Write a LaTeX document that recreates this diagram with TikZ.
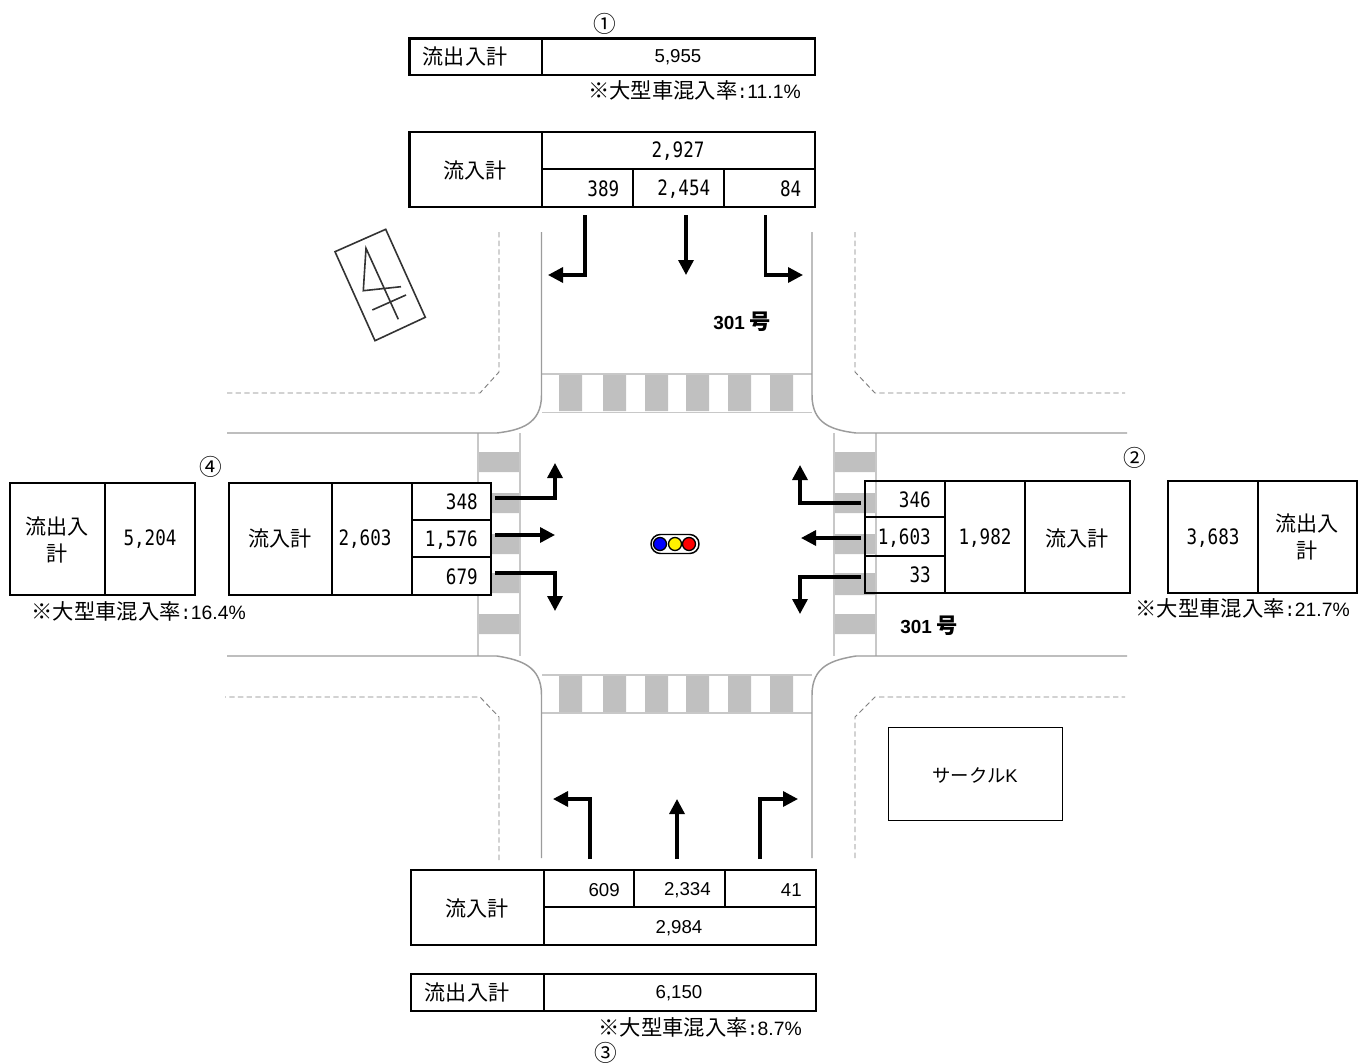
\documentclass[tikz,border=0pt]{standalone}
\usepackage{fontspec}
\setmainfont{Noto Sans CJK JP}
\newfontfamily\arialnum{Liberation Sans}
\newfontfamily\gothicnum[FakeStretch=0.83]{DejaVu Sans Mono}
\usetikzlibrary{arrows.meta}
\definecolor{ink}{HTML}{000000}
\definecolor{curb}{HTML}{9C9C9C}
\definecolor{walkline}{HTML}{C8C8C8}
\definecolor{zebra}{HTML}{C0C0C0}
\definecolor{setback}{HTML}{808080}
\newcommand{\jpsize}{\fontsize{15.8}{20}\selectfont}
\newcommand{\mixrate}[1]{{\fontsize{16}{19}\selectfont ※大型車混入率}{\gothicnum\fontsize{15}{19}\selectfont :}{\arialnum\fontsize{14.5}{19}\selectfont #1\%}}
\tikzset{
  tablerule/.style={draw=ink,line width=1.6pt},
  jptext/.style={font=\jpsize,inner sep=0pt,align=center},
  gothic/.style={font=\gothicnum\fontsize{15.9}{18}\selectfont,inner sep=0pt,yshift=-0.5pt},
  arial/.style={font=\arialnum\fontsize{14}{16}\selectfont,inner sep=0pt,yshift=-0.5pt},
  ratetext/.style={inner sep=0pt},
  circled/.style={font=\fontsize{17}{18}\selectfont,inner sep=0pt},
  roadname/.style={font=\bfseries\fontsize{16}{16}\selectfont,inner sep=0pt},
  curbline/.style={draw=curb,line width=1.1pt},
  walkedge/.style={draw=walkline,line width=1.1pt},
  setbackline/.style={draw=setback,line width=0.7pt,dash pattern=on 4pt off 2.5pt},
  flowarrow/.style={draw=ink,line width=2.5pt,-{Triangle[length=11.25pt,width=11.25pt]}}
}

\begin{document}
\begin{tikzpicture}[x=0.75pt,y=-0.75pt,text=ink]
  \useasboundingbox (0,0) rectangle (1370,1063);
  \path[fill=white] (0,0) rectangle (1370,1063);

  \fill[zebra] (559,374) rectangle (582,411) (603,374) rectangle (626,411)
    (645,374) rectangle (668,411) (686,374) rectangle (709,411)
    (728,374) rectangle (751,411) (770,374) rectangle (793,411);
  \fill[zebra] (559,675) rectangle (582,712) (603,675) rectangle (626,712)
    (645,675) rectangle (668,712) (686,675) rectangle (709,712)
    (728,675) rectangle (751,712) (770,675) rectangle (793,712);
  \fill[zebra] (479,452) rectangle (519,472) (479,493) rectangle (519,513)
    (479,534) rectangle (519,554) (479,573) rectangle (519,593)
    (479,614) rectangle (519,634);
  \fill[zebra] (835,452) rectangle (875,472) (835,493) rectangle (875,513)
    (835,534) rectangle (875,554) (835,573) rectangle (875,595)
    (835,614) rectangle (875,634);
  \draw[walkedge] (542,374) -- (812,374);
  \draw[walkedge] (542,412.5) -- (812,412.5);
  \draw[walkedge] (542,675) -- (812,675);
  \draw[walkedge] (542,713) -- (812,713);
  \draw[walkedge] (478,433) -- (478,656);
  \draw[walkedge] (520,433) -- (520,656);
  \draw[walkedge] (834,433) -- (834,656);
  \draw[walkedge] (876,433) -- (876,656);

  \draw[curbline] (541.5,232) -- (541.5,395) .. controls (541.5,424) and (521,430) .. (497,433) -- (227,433);
  \draw[curbline] (812,232) -- (812,395) .. controls (812,424) and (832,430) .. (856,433) -- (1127,433);
  \draw[curbline] (541.5,858) -- (541.5,695) .. controls (541.5,666) and (521,660) .. (497,656) -- (227,656);
  \draw[curbline] (812,858) -- (812,695) .. controls (812,666) and (832,660) .. (856,656) -- (1127,656);
  \draw[setbackline] (499,232) -- (499,372) -- (480,393) -- (227,393);
  \draw[setbackline] (855,232) -- (855,372) -- (875,393) -- (1125,393);
  \draw[setbackline] (499,860) -- (499,717) -- (480,697) -- (225,697);
  \draw[setbackline] (855,858) -- (855,717) -- (875,697) -- (1125,697);

  \draw[draw=ink!80,line width=1.2pt] (385.7,229.3) -- (335,251.7) -- (375,340.7) -- (425.3,317.3) -- cycle;
  \draw[draw=ink!80,line width=1.2pt] (401,286.7) -- (363.3,290.7) -- (366,248.3) -- (398.3,319.3);
  \draw[draw=ink!80,line width=1.2pt] (372.3,310) -- (406,295);

  \node[circled] (mark1) at (605,24) {①};
  \draw[tablerule] (409.5,38.5) rectangle (815,75);
  \draw[tablerule] (542,38.5) -- (542,75);
  \node[jptext] (out1) at (465,56) {流出入計};
  \node[arial] (out1val) at (678,57) {5,955};
  \node[ratetext,anchor=east] (rate1) at (801,90) {\mixrate{11.1}};

  \draw[tablerule] (409.5,132) rectangle (815,207);
  \draw[tablerule] (542,132) -- (542,207);
  \draw[tablerule] (542,169) -- (815,169);
  \draw[tablerule] (633,169) -- (633,207);
  \draw[tablerule] (724,169) -- (724,207);
  \node[jptext] (in1) at (475,170) {流入計};
  \node[gothic] (in1val) at (678,150) {2,927};
  \node[gothic,anchor=east] (in1l) at (619.5,188) {389};
  \node[gothic,anchor=east] (in1s) at (710.5,188) {2,454};
  \node[gothic,anchor=east] (in1r) at (801.5,188) {84};

  \coordinate (a1la) at (585,215); \coordinate (a1lb) at (548,275);
  \coordinate (a1sa) at (686,215); \coordinate (a1sb) at (686,275);
  \coordinate (a1ra) at (765.5,215); \coordinate (a1rb) at (803,275);
  \draw[flowarrow] (a1la) |- (a1lb);
  \draw[flowarrow] (a1sa) -- (a1sb);
  \draw[flowarrow] (a1ra) |- (a1rb);

  \node[roadname,anchor=west] (road1) at (713,322) {{\arialnum\bfseries\fontsize{14.2}{16}\selectfont 301} 号};

  \node[circled] (mark4) at (211,467) {④};
  \draw[tablerule] (10,483) rectangle (195,595);
  \draw[tablerule] (105,483) -- (105,595);
  \node[jptext] (out4) at (57,540) {流出入\\計};
  \node[gothic] (out4val) at (150,538) {5,204};
  \node[ratetext,anchor=east] (rate4) at (246,611) {\mixrate{16.4}};

  \draw[tablerule,fill=white] (229,483) rectangle (491,595);
  \draw[tablerule] (332,483) -- (332,595);
  \draw[tablerule] (412,483) -- (412,595);
  \draw[tablerule] (412,520) -- (491,520);
  \draw[tablerule] (412,557) -- (491,557);
  \node[jptext] (in4) at (280,538) {流入計};
  \node[gothic] (in4val) at (365,538) {2,603};
  \node[gothic,anchor=east] (in4r) at (478,501) {348};
  \node[gothic,anchor=east] (in4s) at (478,539) {1,576};
  \node[gothic,anchor=east] (in4l) at (478,576) {679};

  \coordinate (a4ra) at (495,498); \coordinate (a4rb) at (555,463);
  \coordinate (a4sa) at (495,535); \coordinate (a4sb) at (555,535);
  \coordinate (a4la) at (495,573); \coordinate (a4lb) at (555,611);
  \draw[flowarrow] (a4ra) -| (a4rb);
  \draw[flowarrow] (a4sa) -- (a4sb);
  \draw[flowarrow] (a4la) -| (a4lb);

  \node[circled] (mark2) at (1135,458) {②};
  \draw[tablerule] (865,481) rectangle (1130,593);
  \draw[tablerule] (945,481) -- (945,593);
  \draw[tablerule] (1025,481) -- (1025,593);
  \draw[tablerule] (865,517) -- (945,517);
  \draw[tablerule] (865,556) -- (945,556);
  \node[gothic,anchor=east] (in2l) at (931,499) {346};
  \node[gothic,anchor=east] (in2s) at (931,537) {1,603};
  \node[gothic,anchor=east] (in2r) at (931,574) {33};
  \node[gothic] (in2val) at (985,537) {1,982};
  \node[jptext] (in2) at (1077,538) {流入計};

  \coordinate (a2la) at (861,503); \coordinate (a2lb) at (800,465);
  \coordinate (a2sa) at (861,538); \coordinate (a2sb) at (801,538);
  \coordinate (a2ra) at (861,577); \coordinate (a2rb) at (800,614);
  \draw[flowarrow] (a2la) -| (a2lb);
  \draw[flowarrow] (a2sa) -- (a2sb);
  \draw[flowarrow] (a2ra) -| (a2rb);

  \draw[tablerule] (1168,481) rectangle (1357,593);
  \draw[tablerule] (1258,481) -- (1258,593);
  \node[gothic] (out2val) at (1213,537) {3,683};
  \node[jptext] (out2) at (1307,537) {流出入\\計};
  \node[ratetext,anchor=east] (rate2) at (1350,608) {\mixrate{21.7}};

  \node[roadname,anchor=west] (road2) at (900,626) {{\arialnum\bfseries\fontsize{14.2}{16}\selectfont 301} 号};

  \draw[draw=ink,line width=1.1pt,rounded corners=7pt] (651,534.5) rectangle (699,553.5);
  \draw[draw=ink,line width=1pt,fill=blue] (660,544) circle (6.5);
  \draw[draw=ink,line width=1pt,fill=yellow] (675,544) circle (6.5);
  \draw[draw=ink,line width=1pt,fill=red] (689,544) circle (6.5);

  \draw[draw=ink,line width=0.75pt] (888,727) rectangle (1062,820);
  \node[font=\fontsize{13.8}{16}\selectfont,inner sep=0pt] (shop) at (975,775) {サークル{\arialnum K}};

  \coordinate (a3la) at (590,859); \coordinate (a3lb) at (553,799);
  \coordinate (a3sa) at (677,859); \coordinate (a3sb) at (677,799);
  \coordinate (a3ra) at (760,859); \coordinate (a3rb) at (798,799);
  \draw[flowarrow] (a3la) |- (a3lb);
  \draw[flowarrow] (a3sa) -- (a3sb);
  \draw[flowarrow] (a3ra) |- (a3rb);

  \draw[tablerule] (411,870) rectangle (816,945);
  \draw[tablerule] (544,870) -- (544,945);
  \draw[tablerule] (544,907) -- (816,907);
  \draw[tablerule] (634,870) -- (634,907);
  \draw[tablerule] (725,870) -- (725,907);
  \node[jptext] (in3) at (477,908) {流入計};
  \node[arial,anchor=east] (in3l) at (620,889) {609};
  \node[arial,anchor=east] (in3s) at (711,889) {2,334};
  \node[arial,anchor=east] (in3r) at (802,889) {41};
  \node[arial] (in3val) at (679,927) {2,984};

  \draw[tablerule] (411,974) rectangle (816,1011);
  \draw[tablerule] (544,974) -- (544,1011);
  \node[jptext] (out3) at (467,992) {流出入計};
  \node[arial] (out3val) at (679,992) {6,150};
  \node[ratetext,anchor=east] (rate3) at (802,1027) {\mixrate{8.7}};
  \node[circled] (mark3) at (606,1053) {③};
\end{tikzpicture}
\end{document}
